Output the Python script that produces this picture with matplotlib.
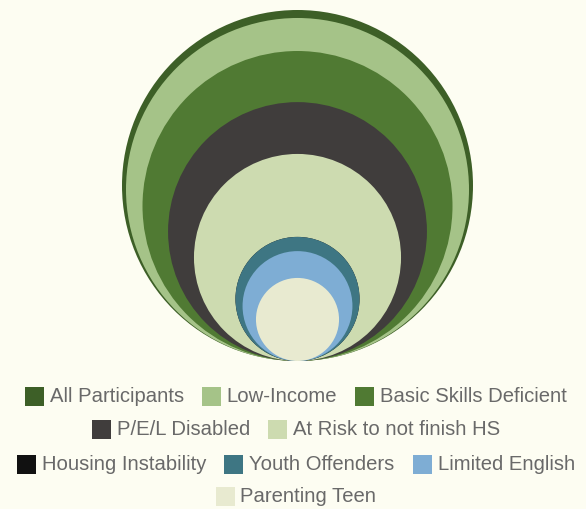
import matplotlib
matplotlib.use("Agg")
import matplotlib.pyplot as plt
from matplotlib.patches import Circle, Rectangle
import numpy as np

categories = ["All Participants", "Low-Income", "Basic Skills Deficient",
              "P/E/L Disabled", "At Risk to not finish HS",
              "Housing Instability", "Youth Offenders", "Limited English",
              "Parenting Teen"]
values = [100, 95.5, 78, 54.4, 34.8, 12.5, 12.5, 9.8, 5.6]
colors = ["#3d5f27", "#a5c388", "#507a33", "#403d3c", "#cddbb0",
          "#111111", "#3e7683", "#7eadd4", "#e8ead0"]
legend_rows = [[0, 1, 2], [3, 4], [5, 6, 7], [8]]

W, H = 586, 510
BG = "#fdfdf2"
fig = plt.figure(figsize=(W / 100, H / 100), dpi=100, facecolor=BG)
ax = fig.add_axes([0, 0, 1, 1])
ax.set_xlim(0, W)
ax.set_ylim(H, 0)
ax.set_aspect("equal")
ax.axis("off")
ax.set_facecolor(BG)

cx, bottom, rmax = 297.5, 362.0, 175.5
vmax = max(values)
order = sorted(range(len(values)), key=lambda i: -values[i])
for i in order:
    r = rmax * np.sqrt(values[i] / vmax)
    ax.add_patch(Circle((cx, bottom - r), r, facecolor=colors[i],
                        edgecolor="none", zorder=2))

# legend
fs = 14.6
sq = 19
gap_sq = 6
gap_item = 18
row_y = [397, 430, 465, 497]
renderer = fig.canvas.get_renderer()
center = 296
for row, yy in zip(legend_rows, row_y):
    widths = []
    texts = []
    for i in row:
        t = ax.text(0, yy, categories[i], fontsize=fs, family="Liberation Sans",
                    color="#696969", va="center", ha="left", zorder=3)
        bb = t.get_window_extent(renderer=renderer)
        widths.append(bb.width)
        texts.append(t)
    total = sum(sq + gap_sq + w for w in widths) + gap_item * (len(row) - 1)
    x = center - total / 2
    for i, t, w in zip(row, texts, widths):
        ax.add_patch(Rectangle((x, yy - sq / 2), sq, sq, facecolor=colors[i],
                               edgecolor="none", zorder=3))
        t.set_x(x + sq + gap_sq)
        x += sq + gap_sq + w + gap_item

fig.savefig("out.png", dpi=100, facecolor=BG)
